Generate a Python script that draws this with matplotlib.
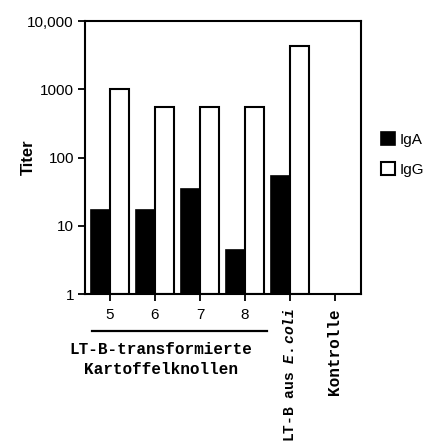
import numpy as np
import matplotlib
matplotlib.use("Agg")
import matplotlib.pyplot as plt
import matplotlib.transforms as mtransforms

plt.rcParams['font.family'] = ['Liberation Sans', 'DejaVu Sans']
plt.rcParams['mathtext.fontset'] = 'custom'
plt.rcParams['mathtext.it'] = 'Liberation Mono:italic:bold'
plt.rcParams['mathtext.rm'] = 'Liberation Mono:bold'

categories = ['5', '6', '7', '8', r'LT-B aus $\mathit{E.coli}$', 'Kontrolle']
iga = [17, 17, 34, 4.4, 54, np.nan]
igg = [1020, 550, 550, 550, 4300, np.nan]
yticks = [1, 10, 100, 1000, 10000]
yticklabels = ['1', '10', '100', '1000', '10,000']
group_label = 'LT-B-transformierte\nKartoffelknollen'

fig = plt.figure(figsize=(4.31, 4.48), dpi=100)
ax = fig.add_axes([85/431, 1-294/448, 276/431, 273/448])

x = np.arange(len(categories))
ax.bar(x, np.array(iga) - 1, bottom=1, width=-0.43, align='edge',
       color='black', edgecolor='black', linewidth=1.2, label='IgA')
ax.bar(x, np.array(igg) - 1, bottom=1, width=0.42, align='edge',
       color='white', edgecolor='black', linewidth=1.5, label='IgG')

ax.set_yscale('log')
ax.set_ylim(1, 10000)
ax.set_xlim(-0.556, 5.58)
ax.set_yticks(yticks)
ax.set_yticklabels(yticklabels, fontsize=11)
ax.minorticks_off()
ax.set_xticks(x)
ax.set_xticklabels(categories, fontsize=11)
for lab in ax.get_xticklabels()[4:]:
    lab.set_rotation(90)
    lab.set_family('Liberation Mono')
    lab.set_weight('bold')
    lab.set_fontsize(11.5)
ax.get_xticklabels()[4].set_fontsize(10.5)
ax.tick_params(axis='both', direction='out', width=1.3, length=5, pad=3)
ax.tick_params(axis='x', pad=5)
for s in ax.spines.values():
    s.set_linewidth(1.5)

ax.set_ylabel('Titer', fontsize=12, fontweight='bold')
ax.yaxis.set_label_coords(-0.177, 0.50)

trans = mtransforms.blended_transform_factory(ax.transData, ax.transAxes)
ax.plot([-0.4, 3.49], [-0.1355, -0.1355], color='black', lw=1.6,
        transform=trans, clip_on=False)
ax.text(1.13, -0.175, group_label, transform=trans, ha='center', va='top',
        family='Liberation Mono', fontweight='bold', fontsize=11.5,
        linespacing=1.45)

fig.legend(loc='upper left', bbox_to_anchor=(381/431, 1-132/448),
           frameon=False, fontsize=11, handlelength=0.92, handleheight=0.9,
           handletextpad=0.33, labelspacing=1.0, borderpad=0,
           borderaxespad=0)

fig.savefig('out.png', dpi=100)
